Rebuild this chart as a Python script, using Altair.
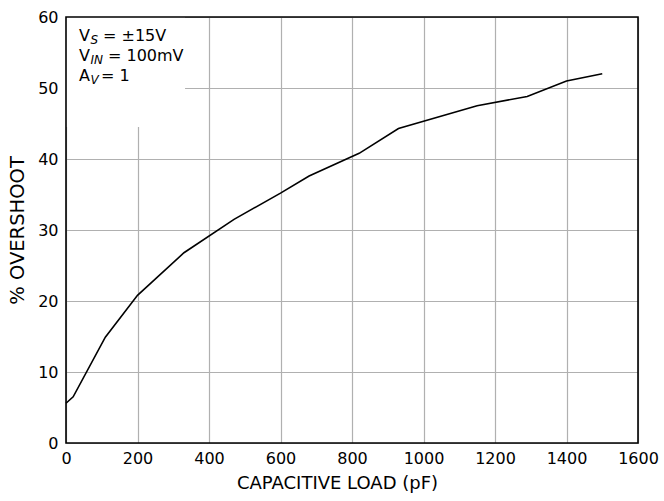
import altair as alt
import pandas as pd

# ---- data ----
cap_load_pf = [0, 20, 110, 200, 330, 470, 600, 680, 820, 930, 1150, 1290, 1400, 1500]
overshoot_pct = [5.6, 6.5, 14.9, 20.8, 26.8, 31.5, 35.2, 37.6, 40.8, 44.3, 47.5, 48.8, 51.0, 52.0]

x_ticks = [0, 200, 400, 600, 800, 1000, 1200, 1400, 1600]
y_ticks = [0, 10, 20, 30, 40, 50, 60]

# annotation box (data units) that hides the grid behind the legend text
box_x = [0]
box_x2 = [333]
box_y = [44.5]
box_y2 = [60]

main_texts = ["V", "= \u00b115V", "V", "= 100mV", "A", "= 1"]
sub_texts = ["S", "IN", "V"]

W, H = 572, 426

df = pd.DataFrame({"c": cap_load_pf, "o": overshoot_pct})
box_df = pd.DataFrame({"x": box_x, "x2": box_x2, "y": box_y, "y2": box_y2})

xs = alt.Scale(domain=[0, 1600], nice=False)
ys = alt.Scale(domain=[0, 60], nice=False)

base = alt.Chart(df)

line = base.mark_line(color="black", strokeWidth=1.6).encode(
    x=alt.X("c:Q", scale=xs,
            axis=alt.Axis(values=x_ticks, title="CAPACITIVE LOAD (pF)", grid=True, format="d",
                          labelFlush=False, labelOverlap=False,
                          ticks=False, domain=False, labelPadding=7, titlePadding=8,
                          titleX=271)),
    y=alt.Y("o:Q", scale=ys,
            axis=alt.Axis(values=y_ticks, title="% OVERSHOOT", grid=True, format="d",
                          labelFlush=False, labelOverlap=False, titleFontSize=19.5,
                          ticks=False, domain=False, labelPadding=8, titlePadding=10)),
)

box = alt.Chart(box_df).mark_rect(color="white").encode(
    x=alt.X("x:Q", scale=xs), x2="x2:Q",
    y=alt.Y("y:Q", scale=ys), y2="y2:Q",
)

# annotation text layout (pixels inside the plot area)
main_pos = [(13, 23.5), (37, 23.5), (13, 43.5), (42, 43.5), (13, 63.5), (35, 63.5)]
sub_pos = [(24.5, 27), (24.5, 47), (24.5, 67)]

ann_main = pd.DataFrame({"t": main_texts,
                         "px": [p[0] for p in main_pos],
                         "py": [p[1] for p in main_pos]})
ann_sub = pd.DataFrame({"t": sub_texts,
                        "px": [p[0] for p in sub_pos],
                        "py": [p[1] for p in sub_pos]})

txt_main = alt.Chart(ann_main).mark_text(
    align="left", baseline="alphabetic", fontSize=16, font="DejaVu Sans", color="black"
).encode(x=alt.X("px:Q", scale=None), y=alt.Y("py:Q", scale=None), text="t:N")

txt_sub = alt.Chart(ann_sub).mark_text(
    align="left", baseline="alphabetic", fontSize=12, fontStyle="italic",
    font="DejaVu Sans", color="black"
).encode(x=alt.X("px:Q", scale=None), y=alt.Y("py:Q", scale=None), text="t:N")

frame = alt.Chart(box_df).mark_rect(fill=None, stroke="black", strokeWidth=1.6).encode(
    x=alt.value(0), x2=alt.value(W), y=alt.value(0), y2=alt.value(H)
)

chart = alt.layer(box, line, txt_main, txt_sub, frame).resolve_scale(
    x="shared", y="shared"
).properties(
    width=W, height=H,
    autosize=alt.AutoSizeParams(type="none"),
    padding={"left": 66, "top": 17, "right": 26, "bottom": 58},
    background="white",
).configure_view(stroke=None).configure_axis(
    labelFont="DejaVu Sans", labelFontSize=16, labelColor="black",
    titleFont="DejaVu Sans", titleFontSize=18, titleFontWeight="normal", titleColor="black",
    gridColor="#b0b0b0", gridWidth=1.2, gridOpacity=1,
)

chart.save("out.html", embed_options={"renderer": "svg", "actions": False})
